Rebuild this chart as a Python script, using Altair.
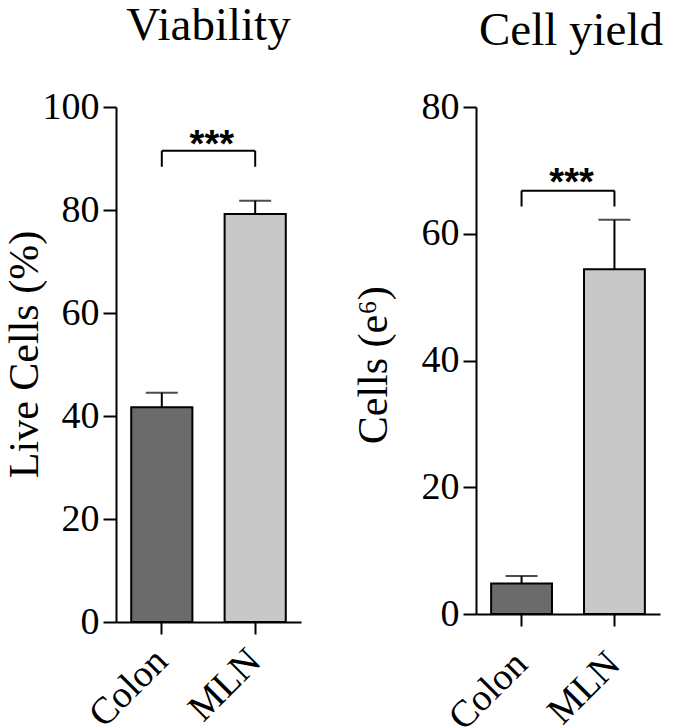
import altair as alt
import pandas as pd

categories = ["Colon", "MLN"]
bar_colors = ["#6b6b6b", "#c8c8c8"]

viability_mean = [41.7, 79.2]
viability_upper = [44.5, 81.8]
viability_ticks = [0, 20, 40, 60, 80, 100]

yield_mean = [4.8, 54.4]
yield_upper = [6.0, 62.2]
yield_ticks = [0, 20, 40, 60, 80]

viability_bracket = [91.5, 88.4]
yield_bracket = [66.8, 64.3]
viability_stars_y = 90.2
yield_stars_y = 66.1
stars_label = "***"

SERIF = "Liberation Serif"


def panel(title, ytitle, means, uppers, ymax, ticks, bracket, stars_y,
          width, height, title_offset, title_dx, ytitle_x, ytitle_y, xlabel_pad):
    df = pd.DataFrame({"group": categories, "mean": means, "upper": uppers})
    ann = pd.DataFrame({"a": [categories[0]], "b": [categories[1]],
                        "top": [bracket[0]], "star": [stars_y]})
    legs = pd.DataFrame({"group": categories, "top": [bracket[0]] * 2,
                         "bottom": [bracket[1]] * 2})

    xscale = alt.Scale(domain=categories, paddingInner=0.345, paddingOuter=0.163)
    yscale = alt.Scale(domain=[0, ymax], nice=False, zero=True)
    xaxis = alt.Axis(title=None, labelAngle=-45, tickSize=12, labelPadding=xlabel_pad,
                     labelAlign="right", labelBaseline="middle")
    yaxis = alt.Axis(title=ytitle, values=ticks, tickSize=13, labelPadding=4,
                     titleX=ytitle_x, titleY=ytitle_y)

    x = alt.X("group:N", scale=xscale, axis=xaxis, sort=categories)

    bars = alt.Chart(df).mark_bar(stroke="black", strokeWidth=2).encode(
        x=x,
        y=alt.Y("mean:Q", scale=yscale, axis=yaxis),
        fill=alt.Fill("group:N", scale=alt.Scale(domain=categories, range=bar_colors),
                      legend=None),
    )
    err = alt.Chart(df).mark_rule(color="black", strokeWidth=2).encode(
        x=x, y=alt.Y("mean:Q", scale=yscale, axis=yaxis), y2="upper:Q")
    cap = alt.Chart(df).mark_tick(color="black", thickness=2, size=32,
                                  orient="horizontal").encode(
        x=x, y=alt.Y("upper:Q", scale=yscale, axis=yaxis))
    br_h = alt.Chart(ann).mark_rule(color="black", strokeWidth=2).encode(
        x=alt.X("a:N", scale=xscale, axis=xaxis), x2="b:N",
        y=alt.Y("top:Q", scale=yscale, axis=yaxis))
    br_v = alt.Chart(legs).mark_rule(color="black", strokeWidth=2).encode(
        x=x, y=alt.Y("top:Q", scale=yscale, axis=yaxis), y2="bottom:Q")
    st = alt.Chart(ann).mark_text(text=stars_label, font="Liberation Sans",
                                  fontSize=38, fontWeight="bold", color="black",
                                  baseline="alphabetic", align="center", dx=50).encode(
        x=alt.X("a:N", scale=xscale, axis=xaxis),
        y=alt.Y("star:Q", scale=yscale, axis=yaxis))

    return alt.layer(bars, err, cap, br_h, br_v, st).properties(
        width=width, height=height,
        title=alt.TitleParams(title, font=SERIF, fontSize=47, fontWeight="normal",
                              color="black", anchor="middle", frame="group",
                              baseline="alphabetic", offset=title_offset, dx=title_dx),
    )


left = panel("Viability", "Live Cells (%)", viability_mean, viability_upper, 100,
             viability_ticks, viability_bracket, viability_stars_y,
             185, 515, 1.3, 0, -69.5, 247, 21)
right = panel("Cell yield", "Cells (e\u2076)", yield_mean, yield_upper, 80,
              yield_ticks, yield_bracket, yield_stars_y,
              184, 507, -3.5, 3, -80.7, 257.7, 32)

chart = alt.hconcat(left, right, spacing=175, bounds="flush").properties(
    padding={"left": -5, "top": -7, "right": 0, "bottom": 0}
).configure_view(stroke=None).configure_axis(
    domainColor="black", domainWidth=2, tickColor="black", tickWidth=2,
    labelFont=SERIF, labelFontSize=38, labelColor="black",
    titleFont=SERIF, titleFontSize=42, titleFontWeight="normal", titleColor="black",
    grid=False,
)

chart.save("out.html", embed_options={"renderer": "svg", "actions": False})
